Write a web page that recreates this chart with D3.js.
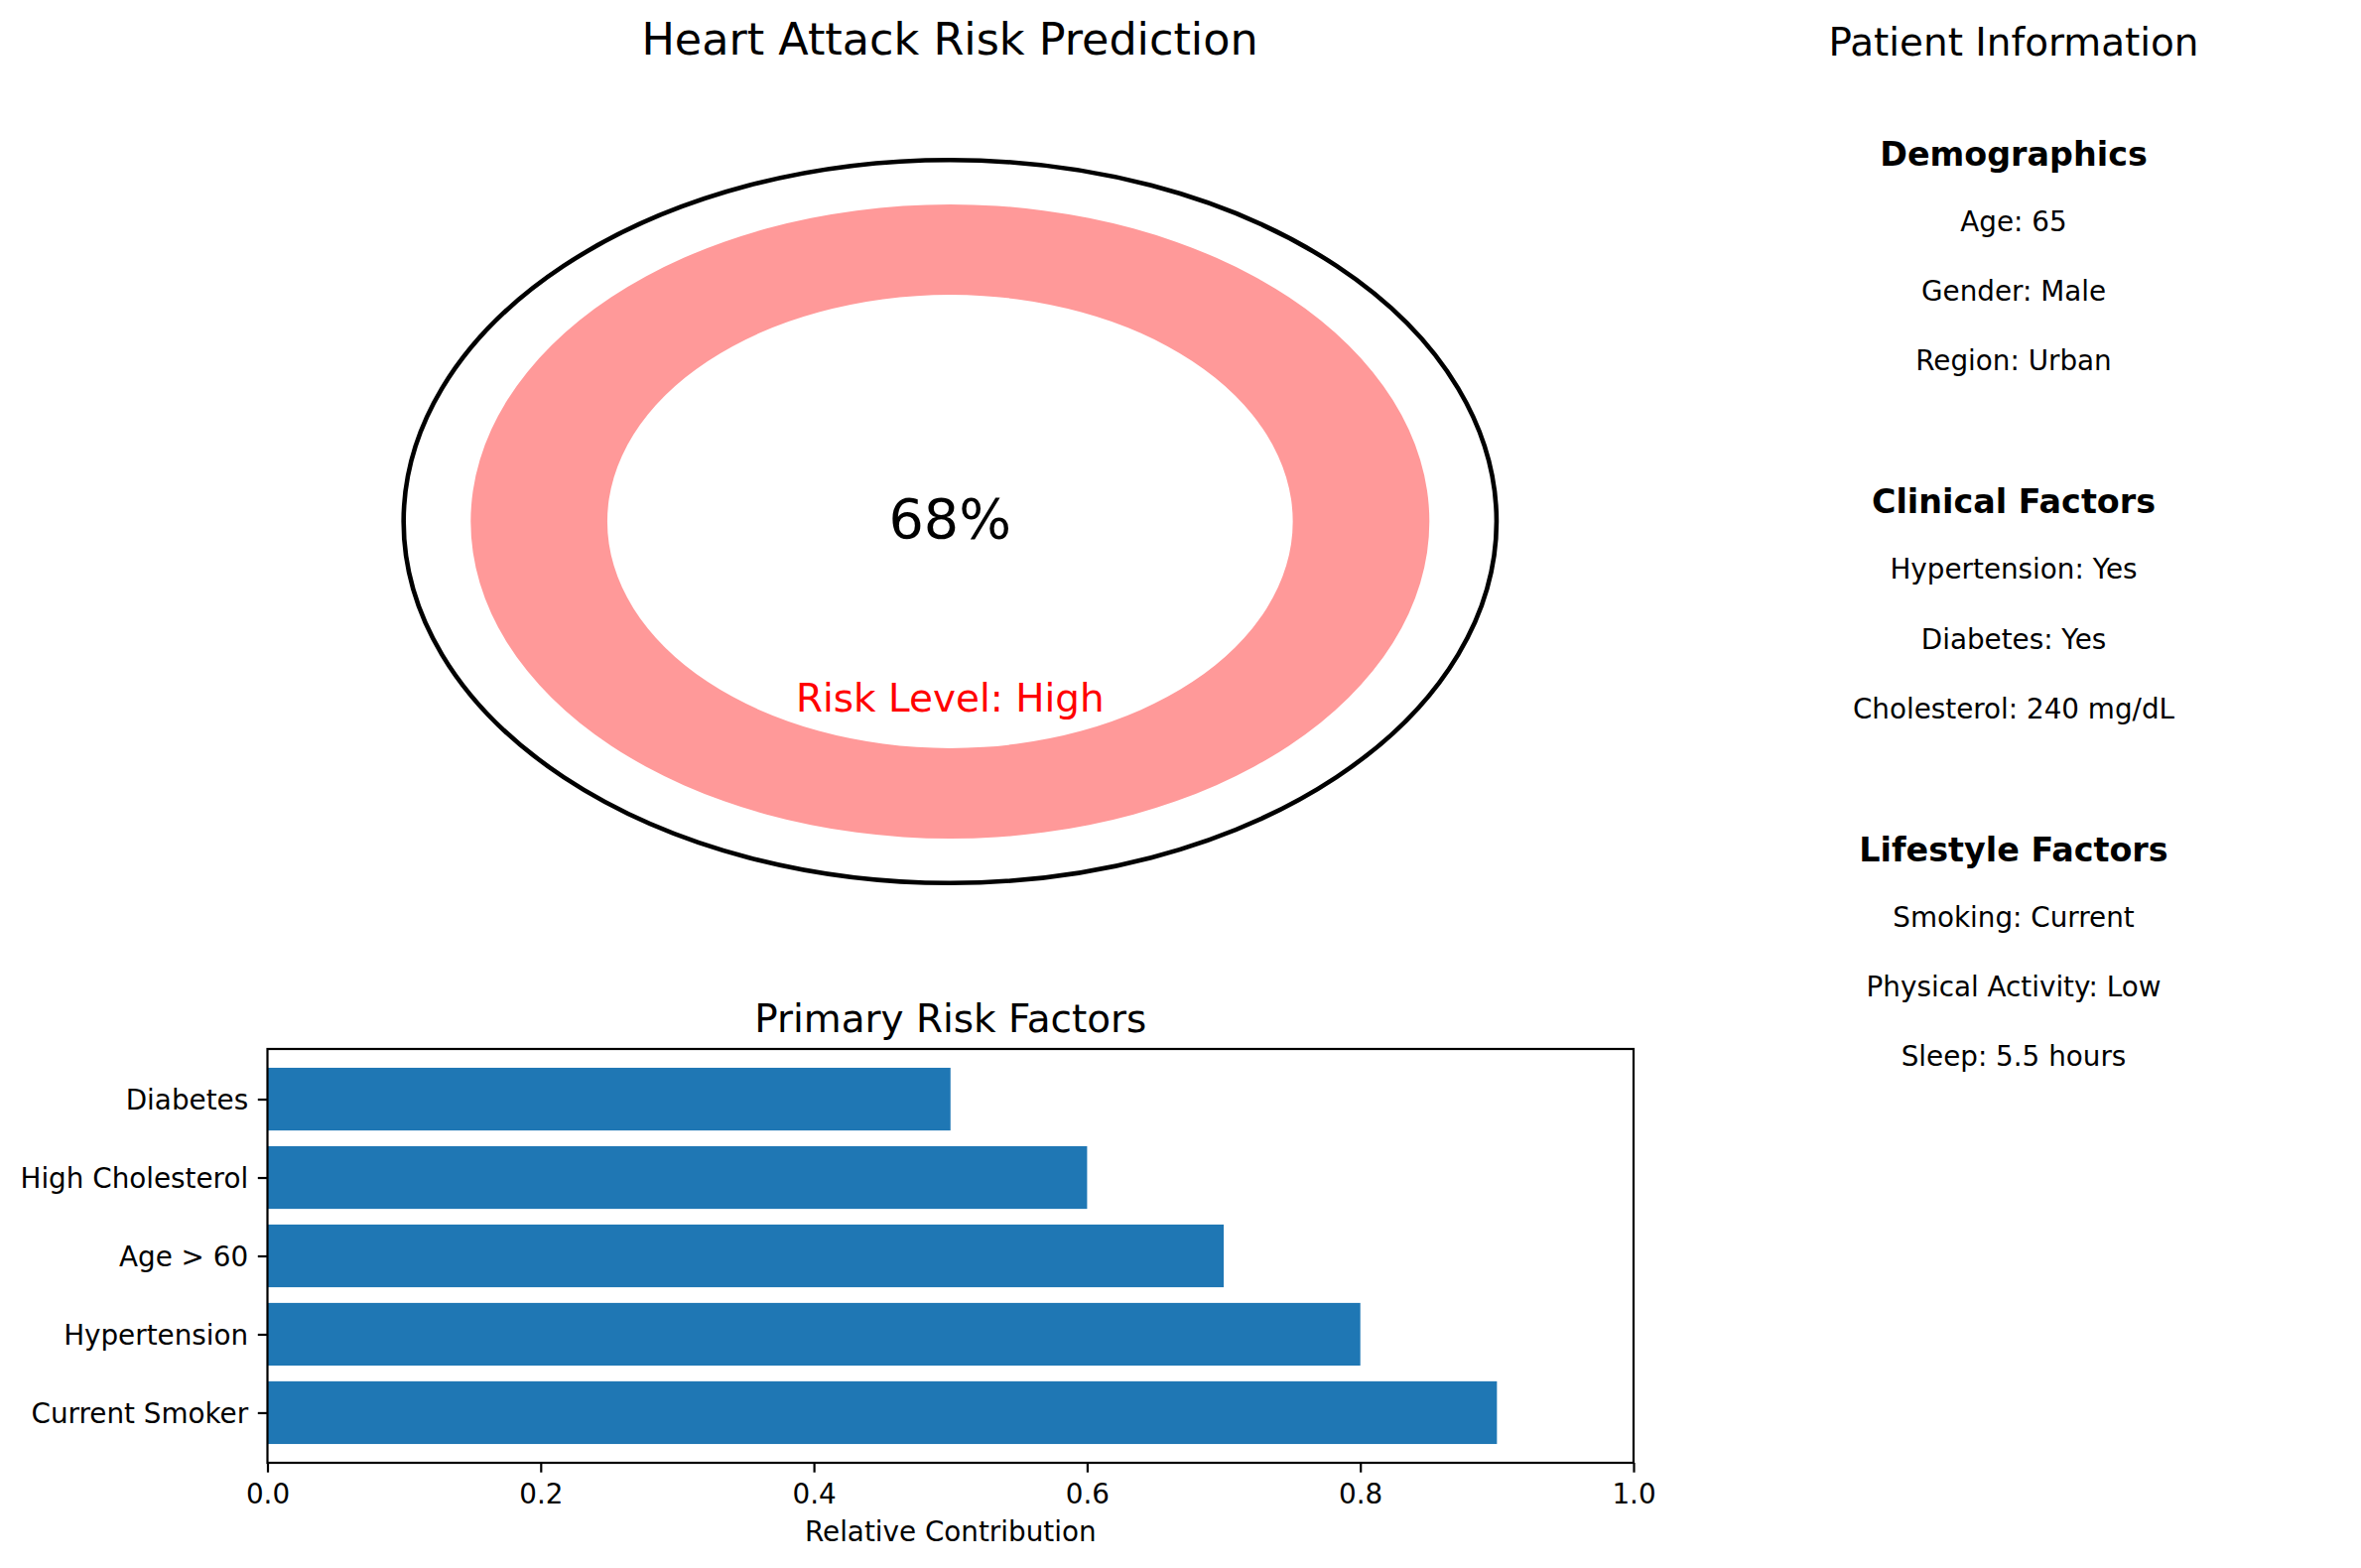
<!DOCTYPE html>
<html>
<head>
<meta charset="utf-8">
<script src="https://cdn.jsdelivr.net/npm/d3@7"></script>
<style>
  html, body { margin: 0; padding: 0; background: #ffffff; }
  svg { display: block; font-family: "DejaVu Sans", sans-serif; }
</style>
</head>
<body>
<svg id="chart" width="2379" height="1580"></svg>
<script>
// ---------------- data ----------------
const riskPercent = 68;
const riskLevel = "High";
const factorNames = ["Current Smoker", "Hypertension", "Age > 60", "High Cholesterol", "Diabetes"];
const factorValues = [0.9, 0.8, 0.7, 0.6, 0.5];
const xTickValues = [0.0, 0.2, 0.4, 0.6, 0.8, 1.0];
const sectionTitles = ["Demographics", "Clinical Factors", "Lifestyle Factors"];
const demographicsItems = ["Age: 65", "Gender: Male", "Region: Urban"];
const clinicalItems = ["Hypertension: Yes", "Diabetes: Yes", "Cholesterol: 240 mg/dL"];
const lifestyleItems = ["Smoking: Current", "Physical Activity: Low", "Sleep: 5.5 hours"];
const ringRadii = { outline: 1.14, outer: 1.0, inner: 0.715 };

// ---------------- setup ----------------
const svg = d3.select("#chart");
const PT = 2.78; // px per point
const fs = { title: 16 * PT, big: 20 * PT, med: 14 * PT, head: 12 * PT, small: 10 * PT };

// ---------------- gauge ----------------
const gx = d3.scaleLinear().domain([-1, 1]).range([474.3, 1440.3]);
const gy = d3.scaleLinear().domain([-1, 1]).range([845, 206]);

svg.append("text")
  .attr("x", 957).attr("y", 55)
  .attr("text-anchor", "middle")
  .attr("font-size", fs.title)
  .text("Heart Attack Risk Prediction");

const gauge = svg.append("g");
const sx = gx(1) - gx(0), sy = gy(0) - gy(1);
const ringArc = d3.arc()
  .innerRadius(ringRadii.inner)
  .outerRadius(ringRadii.outer)
  .startAngle(0)
  .endAngle(2 * Math.PI);
gauge.append("path")
  .attr("d", ringArc())
  .attr("transform", `translate(${gx(0)},${gy(0)}) scale(${sx},${sy})`)
  .attr("fill", "#ff9999");

gauge.append("ellipse")
  .attr("cx", gx(0)).attr("cy", gy(0))
  .attr("rx", gx(ringRadii.outline) - gx(0))
  .attr("ry", gy(0) - gy(ringRadii.outline))
  .attr("fill", "none")
  .attr("stroke", "#000")
  .attr("stroke-width", 4.6);

gauge.append("text")
  .attr("x", gx(0)).attr("y", 542)
  .attr("text-anchor", "middle")
  .attr("font-size", fs.big)
  .text(riskPercent + "%");

gauge.append("text")
  .attr("x", gx(0)).attr("y", 717)
  .attr("text-anchor", "middle")
  .attr("font-size", fs.med)
  .attr("fill", "red")
  .text("Risk Level: " + riskLevel);

// ---------------- bar chart ----------------
const bl = 269.5, br = 1646, bt = 1057, bb = 1474;
const x = d3.scaleLinear().domain([0, 1]).range([bl, br]);
const y = d3.scaleLinear().domain([-0.64, 4.64]).range([bb, bt]);
const barH = 0.8;

const bars = svg.append("g");
bars.selectAll("rect")
  .data(factorNames.map((n, i) => ({ n, v: factorValues[i], i })))
  .join("rect")
  .attr("x", x(0))
  .attr("y", d => y(d.i + barH / 2))
  .attr("width", d => x(d.v) - x(0))
  .attr("height", d => y(d.i - barH / 2) - y(d.i + barH / 2))
  .attr("fill", "#1f77b4");

// frame
svg.append("rect")
  .attr("x", bl).attr("y", bt)
  .attr("width", br - bl).attr("height", bb - bt)
  .attr("fill", "none").attr("stroke", "#000").attr("stroke-width", 2.2);

// x axis
const xAxis = d3.axisBottom(x)
  .tickValues(xTickValues)
  .tickFormat(d3.format(".1f"))
  .tickSize(9.7).tickPadding(9.7);
const gxAxis = svg.append("g").attr("transform", `translate(0,${bb})`).call(xAxis);
gxAxis.select(".domain").remove();
gxAxis.selectAll(".tick line").attr("stroke", "#000").attr("stroke-width", 2.2);
gxAxis.selectAll(".tick text")
  .attr("font-size", fs.small).attr("font-family", "DejaVu Sans")
  .attr("fill", "#000").attr("dy", null).attr("y", 41);

// y axis
const yAxis = d3.axisLeft(y)
  .tickValues(d3.range(factorNames.length))
  .tickFormat(i => factorNames[i])
  .tickSize(9.7).tickPadding(9.7);
const gyAxis = svg.append("g").attr("transform", `translate(${bl},0)`).call(yAxis);
gyAxis.select(".domain").remove();
gyAxis.selectAll(".tick line").attr("stroke", "#000").attr("stroke-width", 2.2);
gyAxis.selectAll(".tick text")
  .attr("font-size", fs.small).attr("font-family", "DejaVu Sans")
  .attr("fill", "#000").attr("dy", "0.35em");

svg.append("text")
  .attr("x", (bl + br) / 2).attr("y", 1553)
  .attr("text-anchor", "middle")
  .attr("font-size", fs.small)
  .text("Relative Contribution");

svg.append("text")
  .attr("x", (bl + br) / 2).attr("y", 1040)
  .attr("text-anchor", "middle")
  .attr("font-size", fs.med)
  .text("Primary Risk Factors");

// ---------------- patient info ----------------
const px = 2029;
svg.append("text")
  .attr("x", px).attr("y", 55.5)
  .attr("text-anchor", "middle")
  .attr("font-size", fs.med)
  .text("Patient Information");

const sectionItems = [demographicsItems, clinicalItems, lifestyleItems];
const infoY = d3.scaleLinear().domain([0, 1]).range([166.6, 517.1]);
const info = svg.append("g");
sectionTitles.forEach((t, s) => {
  const hy = infoY(s);
  info.append("text")
    .attr("x", px).attr("y", hy)
    .attr("text-anchor", "middle")
    .attr("font-size", fs.head)
    .attr("font-weight", "bold")
    .text(t);
  info.selectAll(null)
    .data(sectionItems[s])
    .join("text")
    .attr("x", px)
    .attr("y", (d, i) => hy + 66.2 + 70.2 * i)
    .attr("text-anchor", "middle")
    .attr("font-size", fs.small)
    .text(d => d);
});
</script>
</body>
</html>
